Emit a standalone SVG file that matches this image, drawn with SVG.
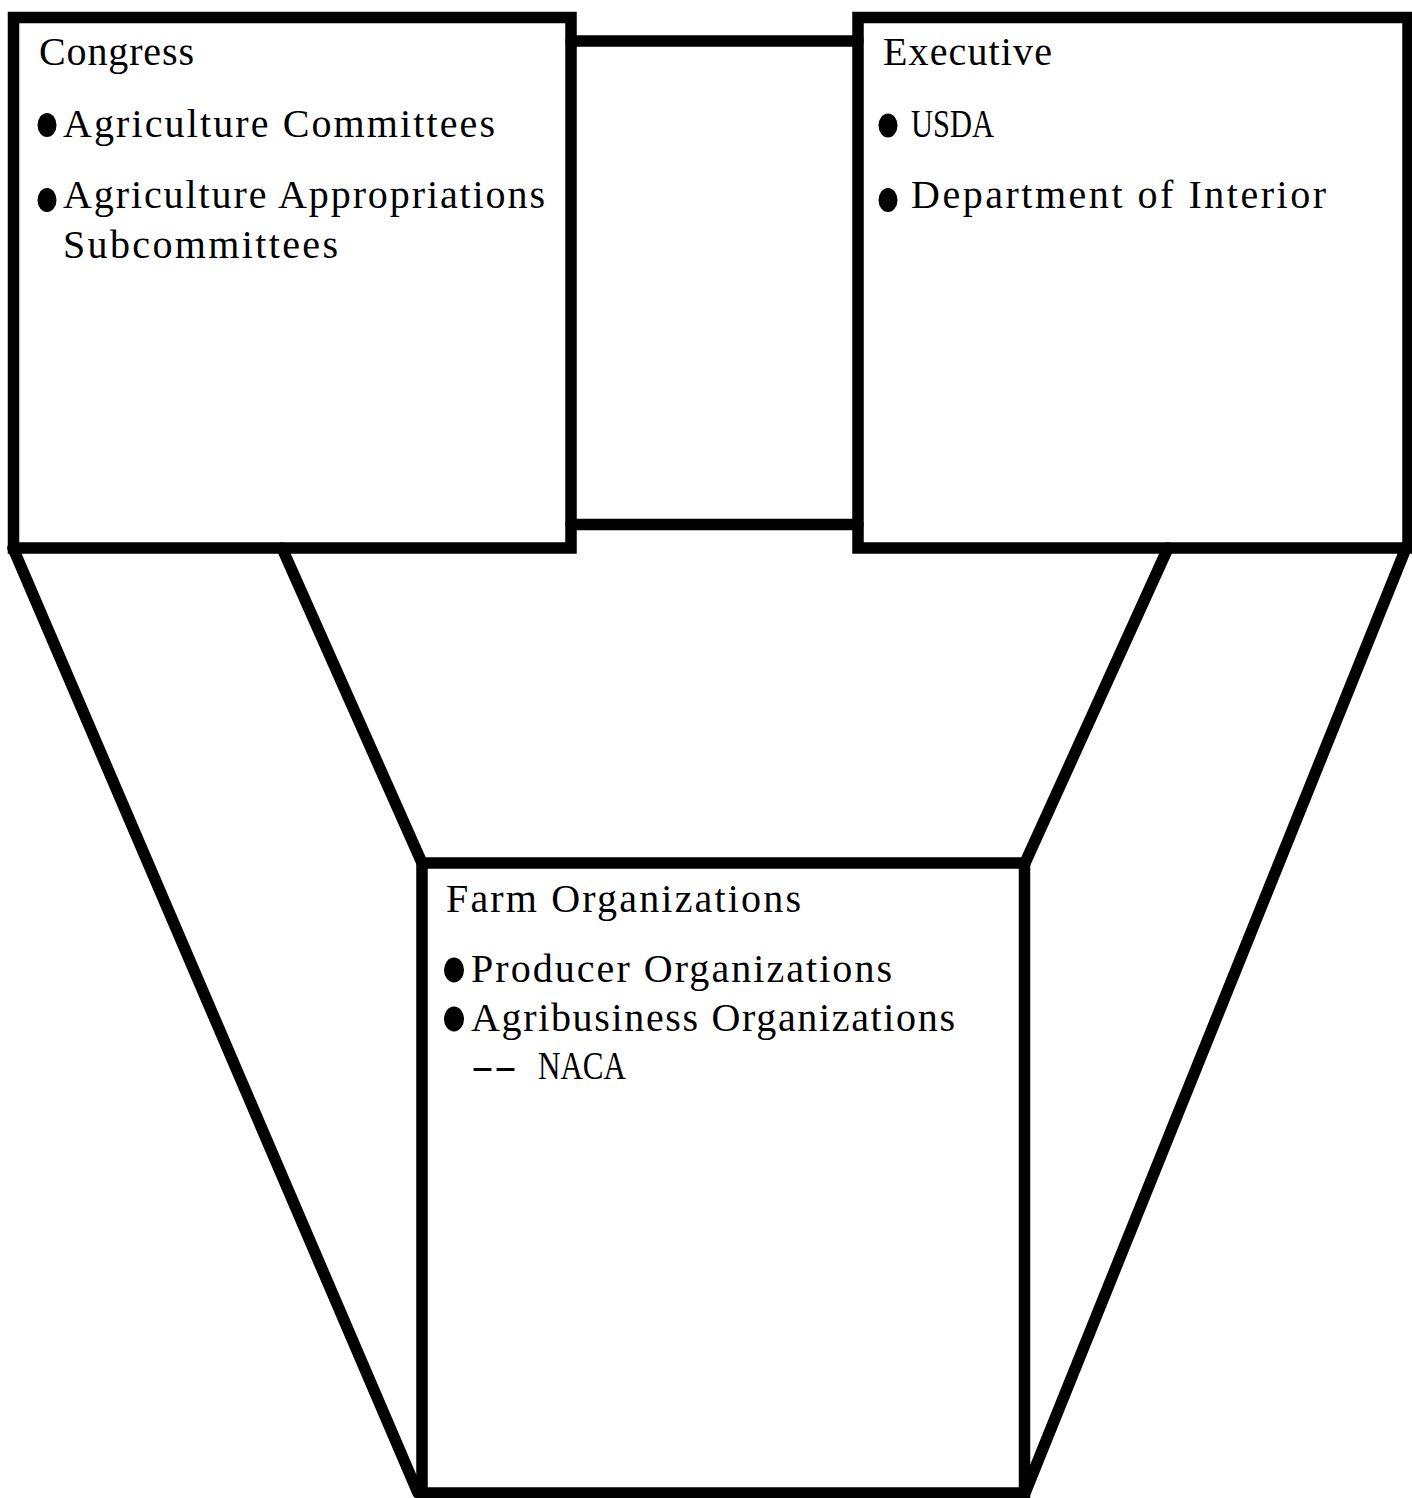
<svg xmlns="http://www.w3.org/2000/svg" width="1412" height="1498" viewBox="0 0 1412 1498">
<style>
.box{fill:none;stroke:#000;stroke-width:11.5;stroke-linejoin:miter}
.con{fill:none;stroke:#000;stroke-width:11.5;stroke-linecap:round}
.t{font-family:"Liberation Serif","Times New Roman",serif;font-size:40px;fill:#000}
.b{fill:#000}
</style>
<rect width="1412" height="1498" fill="#fff"/>
<g id="connectors">
<line class="con" x1="571" y1="41" x2="858" y2="41"/>
<line class="con" x1="571" y1="524.5" x2="858" y2="524.5"/>
<line class="con" x1="13" y1="548" x2="418" y2="1493"/>
<line class="con" x1="282" y1="548" x2="422" y2="863"/>
<line class="con" x1="1168" y1="548" x2="1025" y2="863"/>
<line class="con" x1="1406" y1="548" x2="1025" y2="1493"/>
</g>
<g id="congress">
<rect class="box" x="13.5" y="17.5" width="557.5" height="530.5"/>
<text class="t" x="39" y="65" textLength="155" lengthAdjust="spacing">Congress</text>
<ellipse class="b" cx="47" cy="125" rx="9.5" ry="12"/>
<text class="t" x="63" y="137" textLength="432" lengthAdjust="spacing">Agriculture Committees</text>
<ellipse class="b" cx="47" cy="200" rx="9.5" ry="12"/>
<text class="t" x="63" y="208" textLength="482" lengthAdjust="spacing">Agriculture Appropriations</text>
<text class="t" x="63" y="258" textLength="275" lengthAdjust="spacing">Subcommittees</text>
</g>
<g id="executive">
<rect class="box" x="858" y="17.5" width="550" height="530.5"/>
<text class="t" x="883" y="65" textLength="169" lengthAdjust="spacing">Executive</text>
<ellipse class="b" cx="888" cy="125.5" rx="9.5" ry="12"/>
<text class="t" x="911" y="137" textLength="83" lengthAdjust="spacingAndGlyphs">USDA</text>
<ellipse class="b" cx="888" cy="200" rx="9.5" ry="12"/>
<text class="t" x="911" y="208" textLength="415" lengthAdjust="spacing">Department of Interior</text>
</g>
<g id="farm">
<rect class="box" x="422" y="863" width="602.5" height="630"/>
<text class="t" x="446" y="912" textLength="355" lengthAdjust="spacing">Farm Organizations</text>
<ellipse class="b" cx="454" cy="970" rx="10" ry="12.5"/>
<text class="t" x="471" y="982" textLength="421" lengthAdjust="spacing">Producer Organizations</text>
<ellipse class="b" cx="454" cy="1019" rx="10" ry="12.5"/>
<text class="t" x="471" y="1031" textLength="484" lengthAdjust="spacing">Agribusiness Organizations</text>
<text class="t" x="471" y="1079" textLength="46" lengthAdjust="spacingAndGlyphs">--</text>
<text class="t" x="538" y="1079" textLength="88" lengthAdjust="spacingAndGlyphs">NACA</text>
</g>
</svg>
